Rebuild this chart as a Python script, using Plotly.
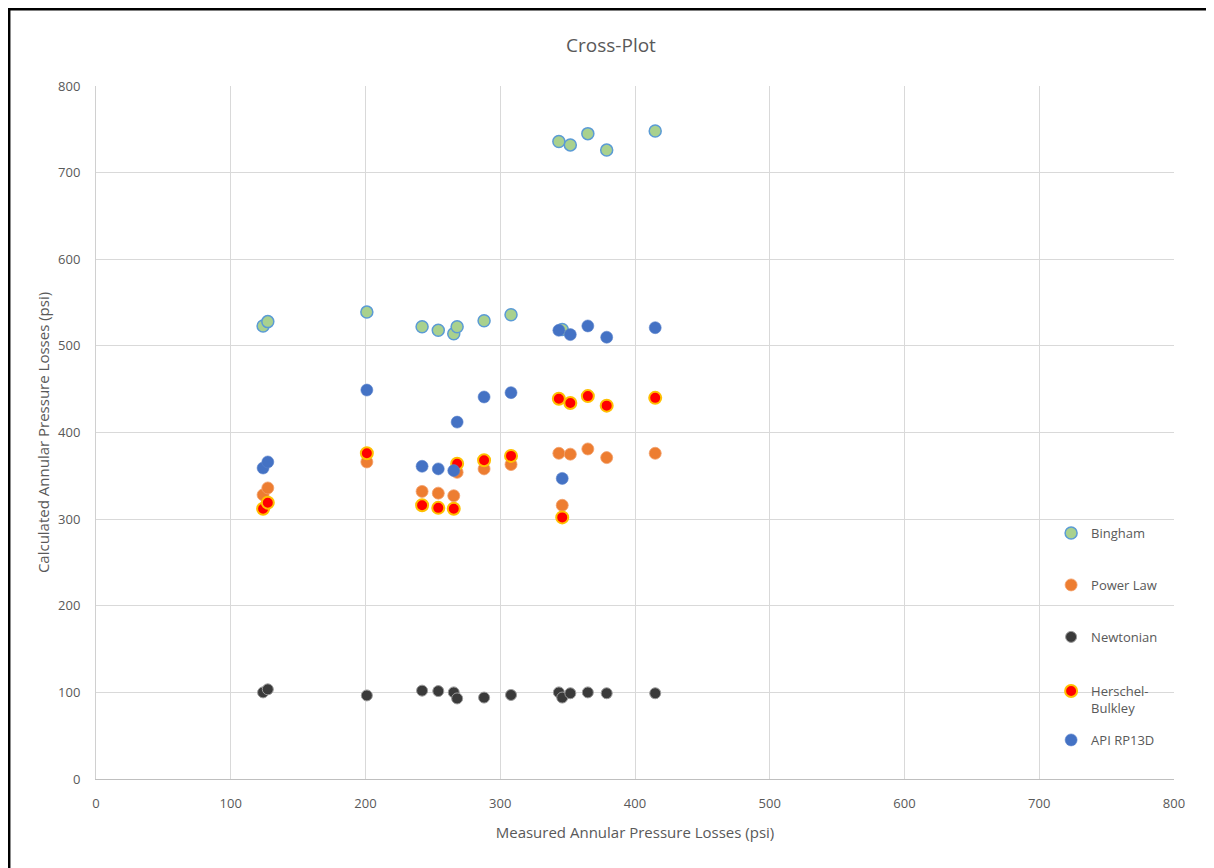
import plotly.graph_objects as go

# ---- data ----
measured = [124, 127.5, 201, 242, 254, 265.5, 268, 288, 308, 343.5, 346, 352, 365, 379, 415]
bingham = [523, 528, 539, 522, 518, 514, 522, 529, 536, 736, 519, 732, 745, 726, 748]
power_law = [328, 336, 366, 332, 330, 327, 354, 358, 363, 376, 316, 375, 381, 371, 376]
newtonian = [100, 103.5, 96.5, 102, 101.5, 100, 93, 94, 97, 100, 94, 99, 100, 99, 99]
herschel_bulkley = [312, 319, 376, 316, 313, 312, 364, 368, 373, 439, 302, 434, 442, 431, 440]
api_rp13d = [359, 366, 449, 361, 358, 356, 412, 441, 446, 518, 347, 513, 523, 510, 521]

tick_vals = [0, 100, 200, 300, 400, 500, 600, 700, 800]

FONT = "Open Sans, sans-serif"
TXT = "#595959"

series = [
    ("Bingham", bingham, dict(color="#A9D18E", size=12, line=dict(color="#5B9BD5", width=1.5)), "legend", 0.355),
    ("Power Law", power_law, dict(color="#ED7D31", size=12, line=dict(color="#F2A06A", width=0.8)), "legend2", 0.280),
    ("Newtonian", newtonian, dict(color="#3A3A3A", size=11, line=dict(color="#9A9A9A", width=1)), "legend3", 0.205),
    ("Herschel-<br>Bulkley", herschel_bulkley, dict(color="#FF0000", size=12, line=dict(color="#FFC000", width=2)), "legend4", 0.1147),
    ("API RP13D", api_rp13d, dict(color="#4472C4", size=12, line=dict(color="#5A83CC", width=0.6)), "legend5", 0.0563),
]

fig = go.Figure()
legend_layout = {}
for name, vals, marker, leg, ly in series:
    fig.add_trace(go.Scatter(x=measured, y=vals, mode="markers", name=name,
                             marker=marker, legend=leg, showlegend=True))
    legend_layout[leg] = dict(x=0.886, y=ly, xanchor="left", yanchor="middle",
                              bgcolor="rgba(0,0,0,0)", borderwidth=0,
                              font=dict(family=FONT, size=13, color=TXT),
                              valign="top")

fig.update_layout(
    width=1206, height=860,
    margin=dict(l=88, r=40, t=78, b=89),
    showlegend=True,
    paper_bgcolor="white", plot_bgcolor="white",
    title=dict(text="Cross-Plot", x=0.5, xanchor="center", y=0.957, yanchor="middle",
               font=dict(family=FONT, size=19, color=TXT)),
    font=dict(family=FONT, color=TXT),
    **legend_layout,
)

fig.update_xaxes(range=[0, 800], tickvals=tick_vals, showgrid=True, gridcolor="#D9D9D9",
                 gridwidth=1, zeroline=False, showline=True, linecolor="#BFBFBF",
                 ticks="", ticklabelstandoff=12, tickfont=dict(family=FONT, size=13, color=TXT),
                 title=dict(text="Measured Annular Pressure Losses (psi)",
                            font=dict(family=FONT, size=15, color=TXT), standoff=16))
fig.update_yaxes(range=[0, 800], tickvals=tick_vals, showgrid=True, gridcolor="#D9D9D9",
                 gridwidth=1, zeroline=False, showline=True, linecolor="#D0D0D0",
                 ticks="", ticklabelstandoff=12, tickfont=dict(family=FONT, size=13, color=TXT),
                 title=dict(text="Calculated Annular Pressure Losses (psi)",
                            font=dict(family=FONT, size=15, color=TXT), standoff=4))

# frame around the picture (screen pixel positions converted to paper coords)
def px(x):
    return (x - 96) / 1078

def py(y):
    return (779 - y) / 693

fig.add_shape(type="line", xref="paper", yref="paper", x0=px(8), x1=px(1214), y0=py(9.2), y1=py(9.2),
              line=dict(color="black", width=2.5))
fig.add_shape(type="line", xref="paper", yref="paper", x0=px(9.2), x1=px(9.2), y0=py(8), y1=py(868),
              line=dict(color="black", width=2.5))
fig.add_shape(type="line", xref="paper", yref="paper", x0=px(1213), x1=px(1213), y0=py(10), y1=py(868),
              line=dict(color="#D9D9D9", width=1))

fig.write_html("out.html")
